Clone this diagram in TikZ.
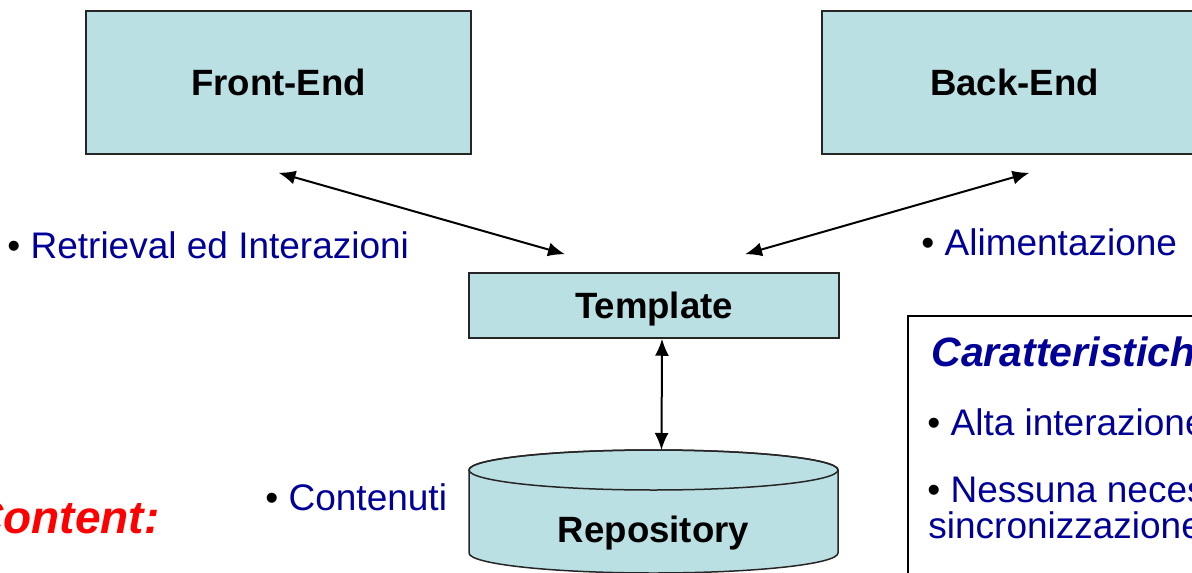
\documentclass[tikz,border=0pt]{standalone}
\usepackage{fontspec}
\setmainfont{Liberation Sans}
\usetikzlibrary{arrows.meta}
\definecolor{boxfill}{HTML}{BBE0E3}
\definecolor{txtblue}{HTML}{000099}
\begin{document}
\begin{tikzpicture}[x=0.5pt, y=-0.5pt,
    layer/.style={draw=black!85, line width=0.75pt, fill=boxfill, text depth=0pt,
        font=\fontsize{18.3}{22}\selectfont\bfseries},
    link/.style={{Latex[length=8.5pt,width=7pt]}-{Latex[length=8.5pt,width=7pt]}, line width=1pt},
    note/.style={anchor=base west, inner sep=0pt, text=txtblue,
        font=\fontsize{18.5}{22}\selectfont}]
    \useasboundingbox (0,0) rectangle (1192,572);
    \clip (0,0) rectangle (1192,572);
    % Boxes
    \node[layer, minimum width=192.5pt, minimum height=71.5pt] (front) at (278.5,82.5) {Front-End};
    \node[layer, minimum width=192.5pt, minimum height=71.5pt] (back) at (1014.5,82.5) {Back-End};
    \node[layer, minimum width=185pt, minimum height=32.5pt] (tmpl) at (654,305.5) {Template};
    % Repository cylinder (drawn by hand)
    \draw[draw=black!85, line width=0.75pt, fill=boxfill]
        (469,470) -- (469,553) arc[start angle=180, end angle=360, x radius=92.25pt, y radius=10pt]
        -- (838,470) arc[start angle=0, end angle=180, x radius=92.25pt, y radius=10pt] -- cycle;
    \draw[draw=black!85, line width=0.75pt] (653.5,470) ellipse[x radius=92.25pt, y radius=10pt];
    \coordinate (repotop) at (653.5,450);
    \node[layer, draw=none, fill=none] (repo) at (653.5,529) {Repository};
    % Arrows
    \draw[link] ([yshift=-9pt]front.south) -- ([xshift=-44.5pt,yshift=9pt]tmpl.north);
    \draw[link] ([xshift=45.5pt,yshift=9pt]tmpl.north) -- ([xshift=7.5pt,yshift=-9pt]back.south);
    \draw[link] ([xshift=4pt]tmpl.south) -- ([xshift=4pt]repotop);
    % Labels
    \node[note] (retr) at (7,258) {\textcolor{black}{•} Retrieval ed Interazioni};
    \node[note] (alim) at (921,255) {\textcolor{black}{•} Alimentazione};
    \node[note] (cont) at (265,510) {\textcolor{black}{•} Contenuti};
    \node[anchor=base east, inner sep=0pt, text=red,
        font=\fontsize{23}{27}\selectfont\bfseries\itshape] (content) at (160,533) {Content:};
    % Characteristics box
    \node[draw, line width=1pt, fill=white, anchor=north west,
        minimum width=200pt, minimum height=150pt] (caratt) at (907,315) {};
    \node[note, font=\fontsize{20.5}{24}\selectfont\bfseries\itshape] (cartitle) at (931,366) {Caratteristiche};
    \node[note] (alta) at (927,435) {\textcolor{black}{•} Alta interazione};
    \node[note] (ness) at (927,502) {\textcolor{black}{•} Nessuna necessità di};
    \node[note] (sinc) at (928,538) {sincronizzazione};
\end{tikzpicture}
\end{document}
